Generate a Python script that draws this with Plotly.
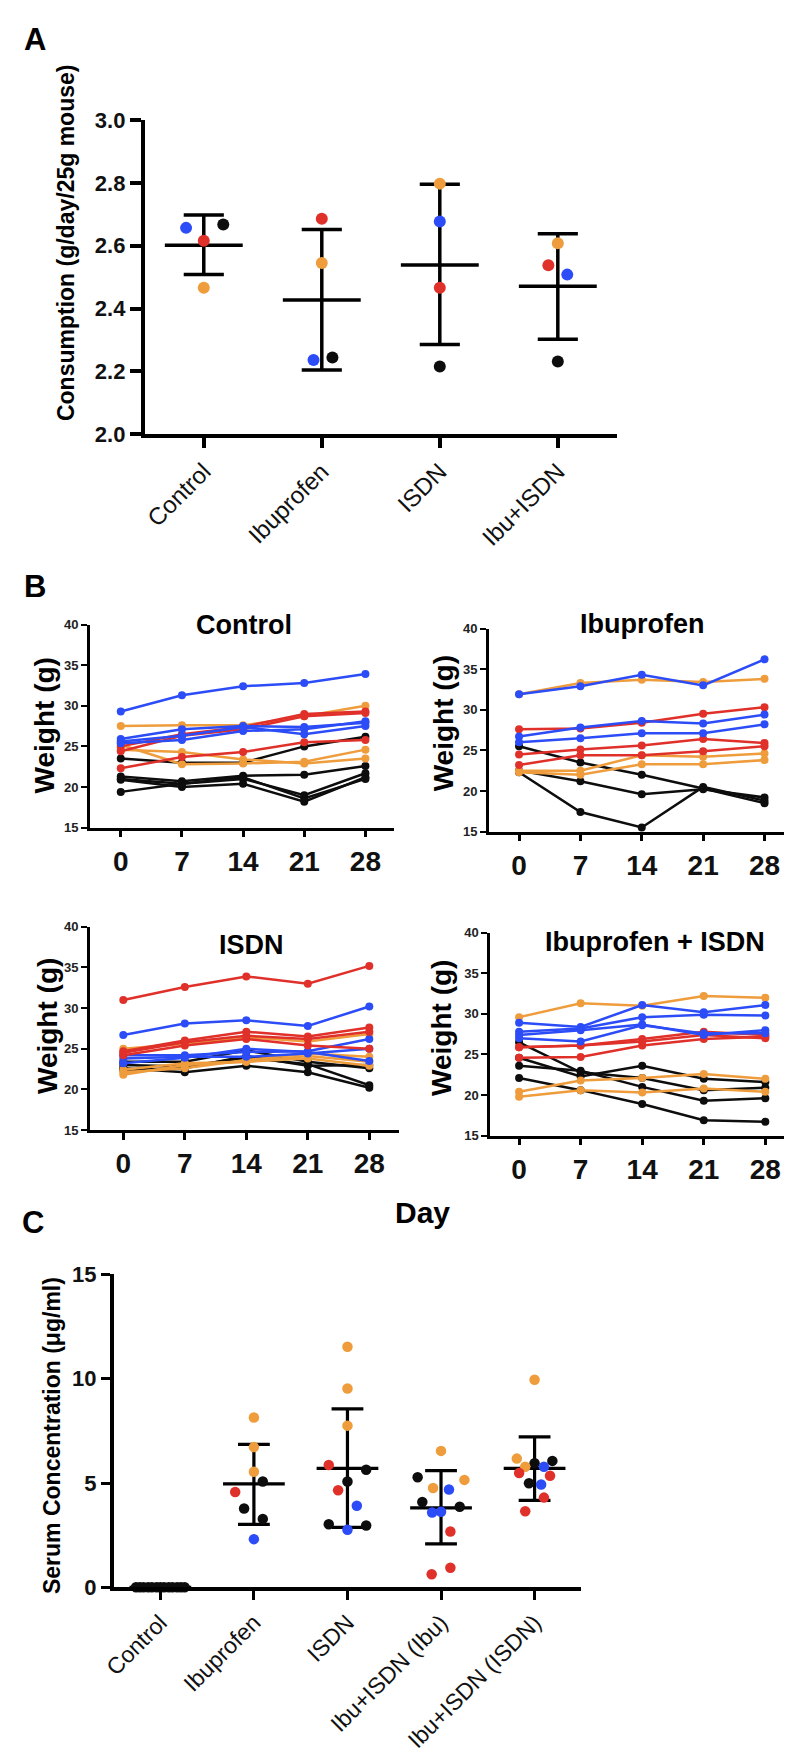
import plotly.graph_objects as go

W, H = 792, 1754
FONT = "Liberation Sans, Arial, Helvetica, sans-serif"

# ---------------- DATA ----------------
# Panel A: food consumption (g/day/25g mouse), one value per cohort
A_GROUPS = ["Control", "Ibuprofen", "ISDN", "Ibu+ISDN"]
A_BLUE = [2.657, 2.236, 2.677, 2.508]
A_RED = [2.616, 2.686, 2.466, 2.538]
A_ORANGE = [2.466, 2.545, 2.798, 2.608]
A_BLACK = [2.668, 2.244, 2.215, 2.231]
A_MEAN = [2.602, 2.427, 2.539, 2.471]
A_UPPER = [2.698, 2.652, 2.796, 2.638]
A_LOWER = [2.508, 2.204, 2.285, 2.302]
A_YTICKS = [2.0, 2.2, 2.4, 2.6, 2.8, 3.0]

# Panel B: body weight (g) by day, one row per mouse, cohort code per row
DAYS = [0, 7, 14, 21, 28]
B_YTICKS = [15, 20, 25, 30, 35, 40]

CONTROL_W = [
    [23.5, 23.0, 23.0, 25.0, 26.2],
    [21.3, 20.7, 21.4, 21.5, 22.6],
    [21.0, 20.4, 21.0, 19.0, 21.7],
    [20.9, 20.0, 20.4, 18.2, 21.2],
    [19.4, 20.4, 21.2, 18.6, 21.0],
    [27.5, 27.6, 27.6, 28.7, 30.0],
    [24.6, 24.3, 23.4, 22.9, 23.5],
    [25.2, 22.8, 22.9, 23.1, 24.6],
    [25.0, 26.5, 27.4, 29.0, 29.3],
    [24.4, 26.3, 27.1, 28.7, 29.1],
    [22.3, 23.7, 24.3, 25.5, 25.8],
    [29.3, 31.3, 32.4, 32.8, 33.9],
    [25.9, 27.1, 27.5, 27.4, 27.9],
    [25.6, 26.3, 27.4, 26.5, 27.5],
    [25.4, 25.8, 26.9, 27.1, 28.1],
]
CONTROL_COHORT = ["K", "K", "K", "K", "K", "O", "O", "O", "R", "R", "R", "B", "B", "B", "B"]

IBU_W = [
    [25.5, 23.5, 22.0, 20.3, 18.5],
    [22.5, 21.2, 19.6, 20.2, 19.2],
    [22.3, 17.4, 15.5, 20.5, 18.8],
    [22.5, 22.5, 24.4, 24.2, 24.6],
    [22.3, 22.0, 23.3, 23.3, 23.8],
    [31.9, 33.3, 33.7, 33.4, 33.8],
    [27.6, 27.7, 28.4, 29.5, 30.3],
    [24.5, 25.1, 25.6, 26.4, 25.9],
    [23.2, 24.4, 24.4, 24.9, 25.5],
    [26.7, 27.8, 28.6, 28.3, 29.4],
    [26.0, 26.5, 27.1, 27.1, 28.2],
    [31.9, 32.9, 34.3, 33.0, 36.2],
]
IBU_COHORT = ["K", "K", "K", "O", "O", "O", "R", "R", "R", "B", "B", "B"]

ISDN_W = [
    [23.4, 23.4, 24.8, 23.4, 22.6],
    [22.6, 22.1, 22.9, 22.1, 20.2],
    [23.0, 22.8, 23.9, 23.1, 20.5],
    [22.4, 22.6, 24.1, 22.9, 23.0],
    [25.0, 25.6, 26.4, 25.9, 26.8],
    [21.8, 23.0, 23.4, 24.1, 23.4],
    [22.1, 22.6, 23.6, 24.4, 24.0],
    [22.4, 23.2, 23.4, 23.8, 22.9],
    [24.2, 24.2, 24.6, 24.7, 26.2],
    [23.8, 24.0, 24.0, 24.4, 25.0],
    [23.2, 23.9, 25.0, 24.6, 23.5],
    [24.7, 26.0, 27.1, 26.5, 27.6],
    [24.2, 25.4, 26.2, 25.4, 25.0],
    [24.5, 25.8, 26.6, 26.2, 27.1],
    [26.7, 28.1, 28.5, 27.8, 30.2],
    [31.0, 32.6, 33.9, 33.0, 35.2],
]
ISDN_COHORT = ["K", "K", "K", "K", "O", "O", "O", "O", "B", "B", "B", "R", "R", "R", "B", "R"]

COMBO_W = [
    [22.1, 20.6, 18.9, 16.9, 16.7],
    [23.6, 23.0, 21.0, 19.3, 19.6],
    [24.6, 22.3, 23.6, 22.0, 21.6],
    [26.5, 22.8, 22.1, 20.6, 20.9],
    [20.4, 21.8, 22.1, 22.6, 22.0],
    [19.8, 20.6, 20.3, 20.8, 20.4],
    [29.6, 31.3, 31.0, 32.2, 32.0],
    [25.9, 26.1, 26.9, 27.8, 27.4],
    [24.6, 24.7, 26.1, 26.9, 27.2],
    [25.9, 26.1, 26.6, 27.4, 27.0],
    [28.9, 28.4, 31.1, 30.2, 31.1],
    [27.8, 28.2, 29.6, 29.9, 29.8],
    [27.4, 28.0, 28.7, 27.4, 28.0],
    [27.0, 26.6, 28.6, 27.6, 27.6],
]
COMBO_COHORT = ["K", "K", "K", "K", "O", "O", "O", "R", "R", "R", "B", "B", "B", "B"]

# Panel C: serum concentration (ug/ml)
C_GROUPS = ["Control", "Ibuprofen", "ISDN", "Ibu+ISDN (Ibu)", "Ibu+ISDN (ISDN)"]
C_CONTROL = [0.0, 0.0, 0.0, 0.0, 0.0, 0.0, 0.0, 0.0, 0.0, 0.0, 0.0, 0.0, 0.0]
C_CONTROL_COHORT = ["K", "K", "K", "K", "K", "K", "K", "K", "K", "K", "K", "K", "K"]
C_IBU = [8.14, 6.72, 5.54, 5.07, 4.57, 3.78, 3.28, 2.31]
C_IBU_COHORT = ["O", "O", "O", "K", "R", "K", "K", "B"]
C_ISDN = [11.53, 9.53, 7.75, 5.86, 5.64, 5.07, 4.65, 3.91, 3.02, 2.96, 2.76]
C_ISDN_COHORT = ["O", "O", "O", "R", "K", "K", "R", "B", "K", "K", "B"]
C_COMBO_IBU = [6.54, 5.28, 5.15, 4.76, 4.69, 4.09, 3.86, 3.59, 3.62, 2.68, 0.63, 0.94]
C_COMBO_IBU_COHORT = ["O", "K", "O", "O", "B", "K", "K", "B", "B", "R", "R", "R"]
C_COMBO_ISDN = [9.95, 6.17, 5.95, 6.06, 5.78, 5.78, 5.48, 5.35, 4.99, 4.93, 4.30, 3.65]
C_COMBO_ISDN_COHORT = ["O", "O", "K", "K", "O", "B", "R", "R", "K", "B", "R", "R"]
C_MEAN = [0.0, 4.96, 5.70, 3.81, 5.70]
C_UPPER = [0.0, 6.85, 8.55, 5.59, 7.21]
C_LOWER = [0.0, 3.02, 2.87, 2.08, 4.17]
C_YTICKS = [0, 5, 10, 15]

# ---------------- STYLE / LAYOUT ----------------
COLORS = {"B": "#2B4CF6", "R": "#E0302A", "O": "#EE9C3C", "K": "#0D0D0D"}

# horizontal scatter offsets (category units)
A_OFF_BLUE = [-0.15, -0.07, 0.0, 0.08]
A_OFF_RED = [0.0, 0.0, 0.0, -0.08]
A_OFF_ORANGE = [0.0, 0.0, 0.0, 0.0]
A_OFF_BLACK = [0.165, 0.09, 0.0, 0.0]
C_OFF_CONTROL = [-0.26, -0.22, -0.18, -0.13, -0.09, -0.04, 0.0, 0.04, 0.09, 0.13, 0.18, 0.22, 0.26]
C_OFF_IBU = [0, 0, 0, 0.095, -0.2, -0.105, 0.095, 0]
C_OFF_ISDN = [0, 0, 0, -0.2, 0.2, 0, -0.1, 0.1, -0.2, 0.2, 0]
C_OFF_COMBO_IBU = [0, -0.25, 0.25, -0.085, 0.085, -0.2, 0.2, -0.095, 0, 0.1, -0.1, 0.1]
C_OFF_COMBO_ISDN = [0, -0.19, 0, 0.19, -0.1, 0.1, -0.165, 0.165, -0.06, 0.07, 0.1, -0.1]


def dx(a, b):
    return [a / W, b / W]


def dy(top, bottom):
    return [1 - bottom / H, 1 - top / H]


fig = go.Figure()


def summary(xname, yname, means, uppers, lowers, half_mean, half_cap, lw):
    xs, ys = [], []
    for i, (m, u, l) in enumerate(zip(means, uppers, lowers)):
        xs += [i - half_mean, i + half_mean, None, i, i, None,
               i - half_cap, i + half_cap, None, i - half_cap, i + half_cap, None]
        ys += [m, m, None, l, u, None, u, u, None, l, l, None]
    fig.add_trace(go.Scatter(x=xs, y=ys, mode="lines", xaxis=xname, yaxis=yname,
                             line=dict(color="black", width=lw), hoverinfo="skip",
                             cliponaxis=False))


def dots(xname, yname, xs, ys, cohorts, size):
    fig.add_trace(go.Scatter(x=xs, y=ys, mode="markers", xaxis=xname, yaxis=yname,
                             marker=dict(color=[COLORS[c] for c in cohorts], size=size,
                                         line=dict(width=0)),
                             cliponaxis=False))


# ---- Panel A ----
summary("x", "y", A_MEAN, A_UPPER, A_LOWER, 0.33, 0.17, 3.5)
for vals, offs, code in [(A_BLUE, A_OFF_BLUE, "B"), (A_RED, A_OFF_RED, "R"),
                         (A_ORANGE, A_OFF_ORANGE, "O"), (A_BLACK, A_OFF_BLACK, "K")]:
    dots("x", "y", [i + o for i, o in enumerate(offs)], vals, [code] * len(vals), 12)

# ---- Panel B ----
for k, (rows, cohorts) in enumerate([(CONTROL_W, CONTROL_COHORT), (IBU_W, IBU_COHORT),
                                     (ISDN_W, ISDN_COHORT), (COMBO_W, COMBO_COHORT)]):
    xn, yn = "x%d" % (k + 2), "y%d" % (k + 2)
    for row, c in zip(rows, cohorts):
        fig.add_trace(go.Scatter(x=DAYS, y=row, mode="lines+markers", xaxis=xn, yaxis=yn,
                                 line=dict(color=COLORS[c], width=2.5),
                                 marker=dict(color=COLORS[c], size=8), cliponaxis=False))

# ---- Panel C ----
summary("x6", "y6", C_MEAN, C_UPPER, C_LOWER, 0.33, 0.17, 3.2)
for gi, (vals, cohorts, offs) in enumerate([
        (C_CONTROL, C_CONTROL_COHORT, C_OFF_CONTROL),
        (C_IBU, C_IBU_COHORT, C_OFF_IBU),
        (C_ISDN, C_ISDN_COHORT, C_OFF_ISDN),
        (C_COMBO_IBU, C_COMBO_IBU_COHORT, C_OFF_COMBO_IBU),
        (C_COMBO_ISDN, C_COMBO_ISDN_COHORT, C_OFF_COMBO_ISDN)]):
    dots("x6", "y6", [gi + o for o in offs], vals, cohorts, 10.5)

base_axis = dict(showline=True, linecolor="black", ticks="outside", tickcolor="black",
                 showgrid=False, zeroline=False, fixedrange=True)

layout = dict(
    width=W, height=H, margin=dict(l=0, r=0, t=0, b=0), autosize=False,
    paper_bgcolor="white", plot_bgcolor="white", showlegend=False,
    font=dict(family=FONT, color="black"),
)

# Panel A axes
layout["xaxis"] = dict(base_axis, domain=dx(126.7, 606), anchor="y", range=[-0.5, 3.5],
                       tickvals=list(range(len(A_GROUPS))), ticktext=A_GROUPS, tickangle=-45,
                       linewidth=4, tickwidth=3.5, ticklen=10,
                       tickfont=dict(family=FONT, size=24, color="#111"))
layout["yaxis"] = dict(base_axis, domain=dy(101.7, 420), anchor="x", range=[2.0, 3.0],
                       tickvals=A_YTICKS, tickformat=".1f",
                       linewidth=4, tickwidth=3.5, ticklen=11,
                       tickfont=dict(family=FONT, size=22, weight="bold", color="#111"))

# Panel B axes
B_BOXES = [
    ((71, 380), (613.3, 819.3), [-3.53, 31.3]),
    ((476, 780), (617.3, 823.3), [-3.45, 30.7]),
    ((71, 385), (920, 1126), [-3.8, 31.4]),
    ((477.3, 780), (926, 1131.7), [-3.3, 30.6]),
]
for k, ((x0, x1), (y0, y1), xr) in enumerate(B_BOXES):
    n = k + 2
    layout["xaxis%d" % n] = dict(base_axis, domain=dx(x0, x1), anchor="y%d" % n, range=xr,
                                 tickvals=DAYS, linewidth=2.5, tickwidth=2.5, ticklen=7,
                                 tickfont=dict(family=FONT, size=28, weight="bold", color="#111"))
    layout["yaxis%d" % n] = dict(base_axis, domain=dy(y0, y1), anchor="x%d" % n, range=[15, 40],
                                 tickvals=B_YTICKS, linewidth=2.5, tickwidth=2, ticklen=6,
                                 tickfont=dict(family=FONT, size=13, weight="bold", color="#222"))

# Panel C axes
layout["xaxis6"] = dict(base_axis, domain=dx(95, 570), anchor="y6", range=[-0.5, 4.5],
                        tickvals=list(range(len(C_GROUPS))), ticktext=C_GROUPS, tickangle=-45,
                        linewidth=3.5, tickwidth=3, ticklen=9,
                        tickfont=dict(family=FONT, size=23, color="#111"))
layout["yaxis6"] = dict(base_axis, domain=dy(1272.5, 1590), anchor="x6", range=[0, 15],
                        tickvals=C_YTICKS, linewidth=3.5, tickwidth=3, ticklen=9,
                        tickfont=dict(family=FONT, size=22, weight="bold", color="#111"))

fig.update_layout(**layout)


def ann(text, x, y, size, angle=0, bold=True, xanchor="center", yanchor="middle"):
    fig.add_annotation(text=text, x=x / W, y=1 - y / H, xref="paper", yref="paper",
                       showarrow=False, textangle=angle, xanchor=xanchor, yanchor=yanchor,
                       font=dict(family=FONT, size=size, color="black",
                                 weight="bold" if bold else "normal"))


# Panel letters
ann("A", 15, 20, 31)
ann("B", 15, 575, 31)
ann("C", 13, 1220, 31)
# Axis titles
ann("Consumption (g/day/25g mouse)", 46, 226, 23, angle=-90)
ann("Weight (g)", 25, 716, 28, angle=-90)
ann("Weight (g)", 430, 713, 28, angle=-90)
ann("Weight (g)", 28, 1021, 28, angle=-90)
ann("Weight (g)", 428, 1023, 28, angle=-90)
ann("Serum Concentration (μg/ml)", 32, 1436, 23, angle=-90)
ann("Day", 409, 1210, 30)
# Subplot titles
ann("Control", 227, 614, 27)
ann("Ibuprofen", 632, 613, 27)
ann("ISDN", 235, 938, 27)
ann("Ibuprofen + ISDN", 645, 935, 27)

fig.write_html("out.html")
